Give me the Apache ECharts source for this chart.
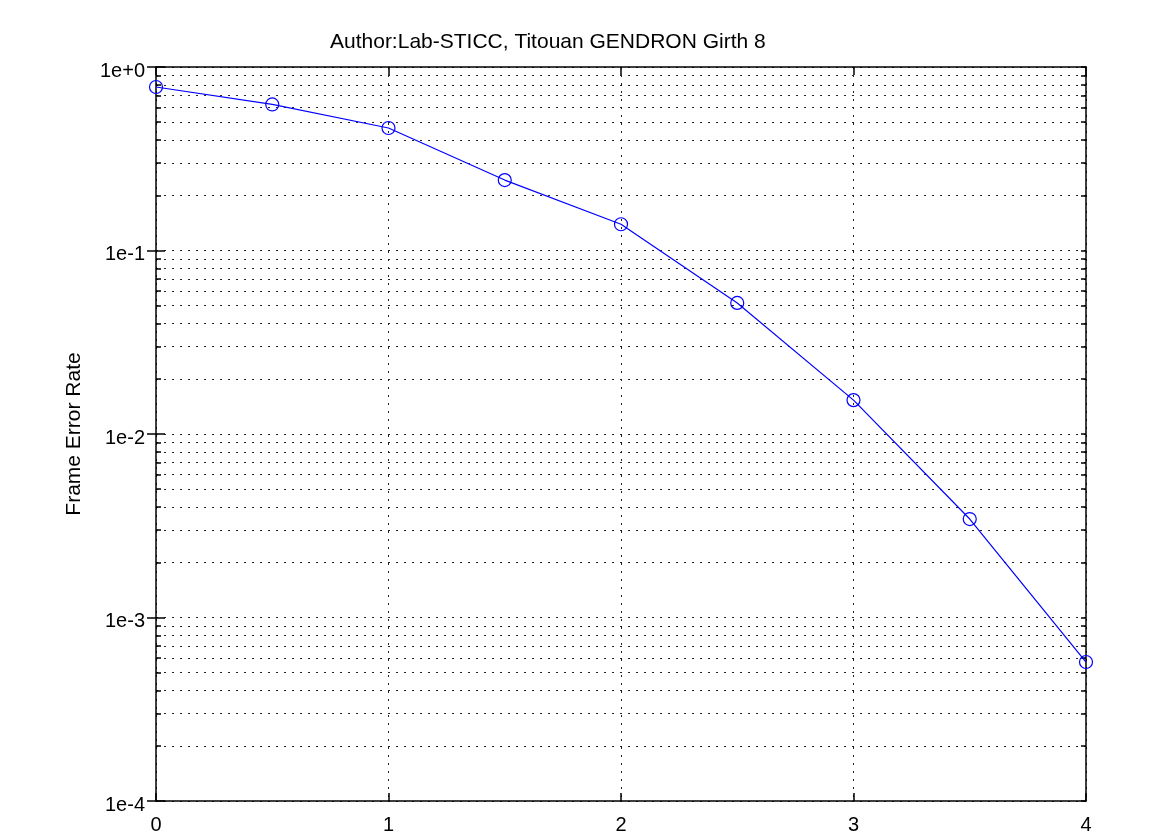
<!DOCTYPE html>
<html>
<head>
<meta charset="utf-8">
<script src="https://cdn.jsdelivr.net/npm/echarts@6/dist/echarts.min.js"></script>
<style>
html,body{margin:0;padding:0;background:#fff;}
#chart{width:1175px;height:835px;}
</style>
</head>
<body>
<div id="chart"></div>
<script>
const titleText = 'Author:Lab-STICC, Titouan GENDRON Girth 8';
const yName = 'Frame Error Rate';
const xValues = [0, 0.5, 1, 1.5, 2, 2.5, 3, 3.5, 4];
const ferValues = [0.778, 0.625, 0.465, 0.242, 0.139, 0.0518, 0.0153, 0.00344, 0.000572];
const xTicks = [0, 1, 2, 3, 4];
const yMajorTicks = [0.0001, 0.001, 0.01, 0.1, 1];
const yAllTicks = [
  0.0001, 0.0002, 0.0003, 0.0004, 0.0005, 0.0006, 0.0007, 0.0008, 0.0009,
  0.001, 0.002, 0.003, 0.004, 0.005, 0.006, 0.007, 0.008, 0.009,
  0.01, 0.02, 0.03, 0.04, 0.05, 0.06, 0.07, 0.08, 0.09,
  0.1, 0.2, 0.3, 0.4, 0.5, 0.6, 0.7, 0.8, 0.9, 1
];

const font = 'Liberation Sans, Arial, Helvetica, sans-serif';
const dotted = {type: [2, 6], color: '#222', width: 1};

function yFmt(v) {
  const e = Math.round(Math.log10(v));
  return '{a|1e' + (e >= 0 ? '+' : '') + e + '}';
}

const chart = echarts.init(document.getElementById('chart'), null, {renderer: 'canvas'});
const option = {
  animation: false,
  backgroundColor: '#fff',
  title: {
    text: titleText,
    left: 325, top: 27,
    textStyle: {fontFamily: font, fontSize: 21, fontWeight: 'normal', color: '#000'}
  },
  grid: {left: 156, right: 89, top: 67, bottom: 34, containLabel: false},
  xAxis: [
    {
      type: 'value', min: 0, max: 4, interval: 1, position: 'bottom',
      axisLine: {show: true, onZero: false, lineStyle: {color: '#000', width: 1.5}},
      axisTick: {show: true, inside: true, length: 8, customValues: xTicks, lineStyle: {color: '#000', width: 1.5}},
      axisLabel: {show: true, margin: 14, customValues: xTicks, fontFamily: font, fontSize: 20, color: '#000'},
      splitLine: {show: true, lineStyle: dotted}
    },
    {
      type: 'value', min: 0, max: 4, interval: 1, position: 'top',
      axisLine: {show: true, onZero: false, lineStyle: {color: '#000', width: 1.5}},
      axisTick: {show: true, inside: true, length: 8, customValues: xTicks, lineStyle: {color: '#000', width: 1.5}},
      axisLabel: {show: false},
      splitLine: {show: false}
    }
  ],
  yAxis: [
    {
      type: 'log', logBase: 10, min: 0.0001, max: 1, position: 'left',
      name: yName, nameLocation: 'middle', nameGap: 71, nameRotate: 90,
      nameTextStyle: {fontFamily: font, fontSize: 21, color: '#000'},
      axisLine: {show: true, onZero: false, lineStyle: {color: '#000', width: 1.5}},
      axisTick: {show: true, inside: true, length: 5, customValues: yAllTicks, lineStyle: {color: '#000', width: 1.5}},
      axisLabel: {
        show: true, margin: 11, customValues: yMajorTicks, formatter: yFmt,
        fontFamily: font, fontSize: 20, color: '#000',
        rich: {a: {fontFamily: font, fontSize: 20, color: '#000', padding: [8, 0, 0, 0]}}
      },
      splitLine: {show: true, lineStyle: dotted}
    },
    {
      type: 'log', logBase: 10, min: 0.0001, max: 1, position: 'right',
      axisLine: {show: true, onZero: false, lineStyle: {color: '#000', width: 1.5}},
      axisTick: {show: true, inside: true, length: 5, customValues: yAllTicks, lineStyle: {color: '#000', width: 1.5}},
      axisLabel: {show: false},
      splitLine: {show: false}
    },
    {
      type: 'log', logBase: 10, min: 0.0001, max: 1, position: 'left',
      axisLine: {show: false},
      axisTick: {show: true, inside: true, length: 9, customValues: yMajorTicks, lineStyle: {color: '#000', width: 1.5}},
      axisLabel: {show: false},
      splitLine: {show: false}
    },
    {
      type: 'log', logBase: 10, min: 0.0001, max: 1, position: 'right',
      axisLine: {show: false},
      axisTick: {show: true, inside: true, length: 9, customValues: yMajorTicks, lineStyle: {color: '#000', width: 1.5}},
      axisLabel: {show: false},
      splitLine: {show: false}
    }
  ],
  series: [
    {
      type: 'line',
      data: xValues.map((x, i) => [x, ferValues[i]]),
      xAxisIndex: 0, yAxisIndex: 0,
      symbol: 'circle', symbolSize: 13, showAllSymbol: true,
      lineStyle: {color: '#0000ff', width: 1.2},
      itemStyle: {color: 'rgba(0,0,0,0)', borderColor: '#0000ff', borderWidth: 1.2},
      clip: false
    }
  ]
};
chart.setOption(option);
</script>
</body>
</html>
